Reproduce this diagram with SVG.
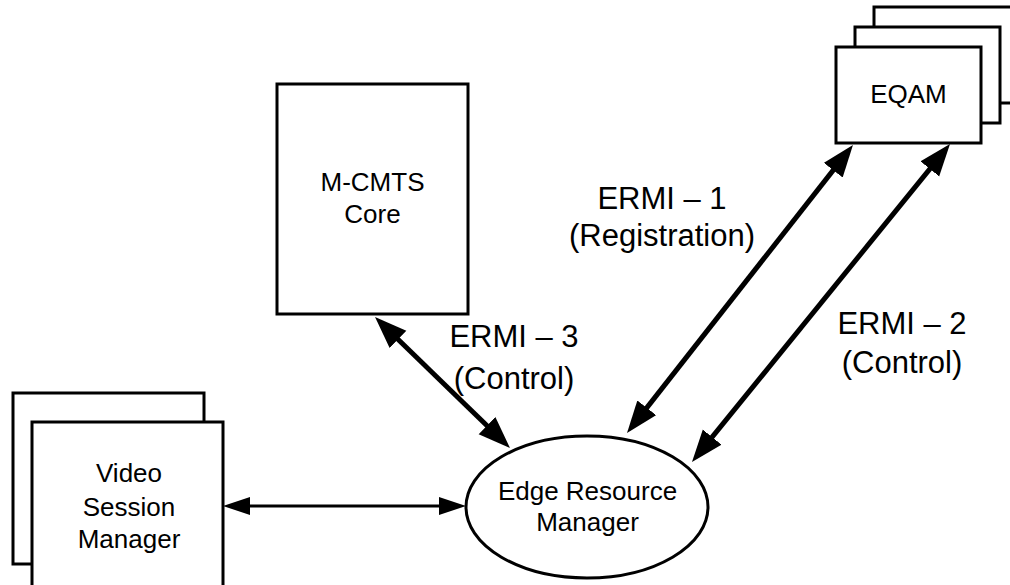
<svg xmlns="http://www.w3.org/2000/svg" width="1010" height="585" viewBox="0 0 1010 585">
<style>
.box{fill:#fff;stroke:#000;stroke-width:3}
.node{font-family:"Liberation Sans",Arial,sans-serif;font-size:26px;fill:#000;text-anchor:middle}
.lbl{font-family:"Liberation Sans",Arial,sans-serif;font-size:31px;fill:#000;text-anchor:middle}
.thick{stroke:#000;stroke-width:5;fill:none;marker-start:url(#bigArrow);marker-end:url(#bigArrow)}
.thin{stroke:#000;stroke-width:3;fill:none;marker-start:url(#smallArrow);marker-end:url(#smallArrow)}
</style>
<defs>
<marker id="bigArrow" markerUnits="userSpaceOnUse" markerWidth="34" markerHeight="26" refX="22" refY="12" orient="auto-start-reverse">
<path d="M0,0 L32,12 L0,24 z" fill="#000"/>
</marker>
<marker id="smallArrow" markerUnits="userSpaceOnUse" markerWidth="29" markerHeight="20" refX="18" refY="9" orient="auto-start-reverse">
<path d="M0,0 L27,9 L0,18 z" fill="#000"/>
</marker>
</defs>
<rect width="1010" height="585" fill="#fff"/>
<g id="eqam">
<rect class="box" x="874" y="7" width="145" height="96"/>
<rect class="box" x="855" y="27" width="145" height="96"/>
<rect class="box" x="836" y="47" width="145" height="96"/>
<text class="node" x="908.5" y="103">EQAM</text>
</g>
<g id="mcmts">
<rect class="box" x="277" y="84" width="191" height="230"/>
<text class="node" x="372.5" y="191">M-CMTS</text>
<text class="node" x="372.5" y="223">Core</text>
</g>
<g id="vsm">
<rect class="box" x="13" y="393" width="191" height="171"/>
<rect class="box" x="32" y="422" width="191" height="175"/>
<text class="node" x="129" y="482">Video</text>
<text class="node" x="129" y="516">Session</text>
<text class="node" x="129" y="548">Manager</text>
</g>
<g id="erm">
<ellipse class="box" cx="587" cy="507" rx="121" ry="71"/>
<text class="node" x="587.5" y="500">Edge Resource</text>
<text class="node" x="587.5" y="531">Manager</text>
</g>
<g id="connectors">
<line class="thick" x1="382.2" y1="324" x2="502.8" y2="441"/>
<line class="thick" x1="846.8" y1="152.9" x2="633.2" y2="425.1"/>
<line class="thick" x1="943.7" y1="151.8" x2="698.3" y2="454.2"/>
<line class="thin" x1="232" y1="506" x2="457" y2="506"/>
</g>
<g id="labels">
<text class="lbl" x="514" y="347">ERMI – 3</text>
<text class="lbl" x="514" y="389">(Control)</text>
<text class="lbl" x="662" y="209">ERMI – 1</text>
<text class="lbl" x="662" y="246">(Registration)</text>
<text class="lbl" x="902" y="334">ERMI – 2</text>
<text class="lbl" x="902" y="373">(Control)</text>
</g>
</svg>
